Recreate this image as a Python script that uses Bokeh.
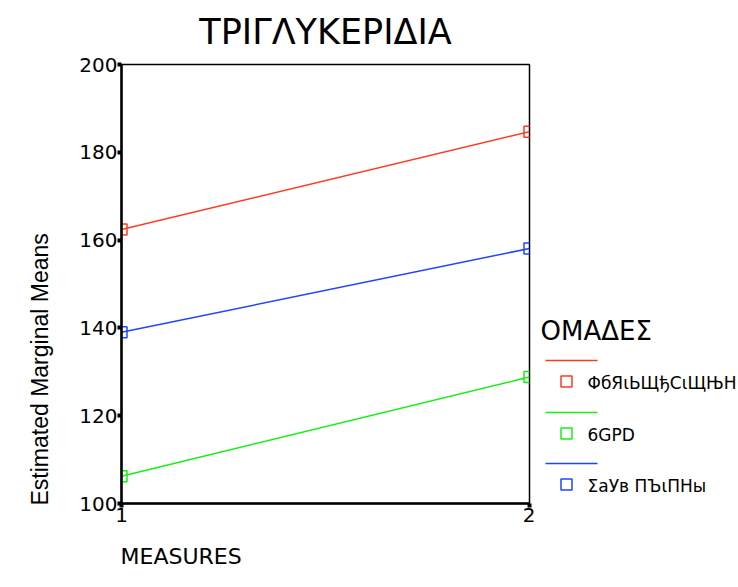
from bokeh.plotting import figure
from bokeh.models import Range1d, FixedTicker, Title, LinearAxis
from bokeh.layouts import row
from bokeh.embed import file_html
from bokeh.resources import INLINE
from bokeh.core.properties import value

# ---- data ----
measures = [1, 2]
group_names = ["ΦбЯιЬЩђСιЩЊН", "6GPD", "ΣаУв ПЪιПНы"]
group_colors = ["#ff3b1f", "#14f014", "#1f45ff"]
means_group1 = [162.4, 184.7]
means_group2 = [106.2, 128.8]
means_group3 = [139.0, 158.1]
series = [means_group1, means_group2, means_group3]
y_ticks = [100, 120, 140, 160, 180, 200]
x_ticks = [1, 2]
chart_title = "ΤΡΙΓΛΥΚΕΡΙΔΙΑ"
x_title = "MEASURES"
y_title = "Estimated Marginal Means"
legend_title = "ΟΜΑΔΕΣ"

FONT = "DejaVu Sans"
W1, H = 535, 587
FRAME_TOP, FRAME_BOTTOM = 64, 503

p = figure(width=W1, height=H, x_range=Range1d(1, 2), y_range=Range1d(100, 200),
           output_backend="svg", toolbar_location=None,
           min_border_left=119, min_border_right=6, min_border_top=FRAME_TOP,
           min_border_bottom=H - FRAME_BOTTOM)
p.xgrid.visible = False
p.ygrid.visible = False
p.outline_line_color = "black"
p.outline_line_width = 1.5
bottom_ax = p.below[0]
left_ax = p.left[0]
for ax in (bottom_ax, left_ax):
    ax.axis_line_width = 2.5
    ax.axis_line_color = "black"
    ax.major_tick_in = 0
    ax.major_tick_out = 4
    ax.major_tick_line_width = 4
    ax.minor_tick_line_color = None
    ax.major_label_text_font = FONT
    ax.major_label_text_font_size = "20px"
    ax.major_label_text_color = "black"
    ax.major_label_standoff = 0
left_ax.ticker = FixedTicker(ticks=y_ticks)
bottom_ax.ticker = FixedTicker(ticks=x_ticks)

for vals, col in zip(series, group_colors):
    p.line(measures, vals, line_color=col, line_width=1.5)
    p.scatter(measures, vals, marker="square", size=11, line_color=col, line_width=1.5,
              fill_color=None)

# chart title as the label of a bare axis above the frame
top_ax = LinearAxis(ticker=FixedTicker(ticks=[]), axis_line_color=None,
                    major_tick_line_color=None, minor_tick_line_color=None,
                    major_tick_in=0, major_tick_out=0, minor_tick_in=0, minor_tick_out=0,
                    major_label_standoff=0, major_label_text_font_size="0px",
                    axis_label=chart_title, axis_label_standoff=13,
                    axis_label_text_font=FONT, axis_label_text_font_size="35px",
                    axis_label_text_font_style="normal", axis_label_text_color="black")
p.add_layout(top_ax, "above")

p.add_layout(Title(text=x_title, text_font=FONT, text_font_size="22px",
                   text_font_style="normal", text_color="black",
                   align="left", offset=-1, standoff=34), "below")
p.add_layout(Title(text=y_title, text_font="Liberation Sans",
                   text_font_size="23px", text_font_style="normal", text_color="black",
                   align="left", offset=-2, standoff=48), "left")

# ---- legend panel (its frame lines up with the main frame; y in page pixels) ----
W2 = 203
lg = figure(width=W2, height=H, x_range=Range1d(0, W2), y_range=Range1d(FRAME_BOTTOM, FRAME_TOP),
            output_backend="svg", toolbar_location=None,
            min_border=0, min_border_left=0, min_border_right=0,
            min_border_top=FRAME_TOP, min_border_bottom=H - FRAME_BOTTOM)
lg.axis.visible = False
lg.grid.visible = False
lg.outline_line_color = None
lg.text([5], [330], text=[legend_title], text_font=value(FONT), text_font_size="26px",
        text_baseline="middle", text_color="black")
line_y = [360, 412, 463]
for i, (name, col) in enumerate(zip(group_names, group_colors)):
    ly = line_y[i]
    lg.line([10, 62], [ly, ly], line_color=col, line_width=1.5)
    lg.scatter([31], [ly + 21], marker="square", size=11, line_color=col, line_width=1.5,
               fill_color=None)
    lg.text([52], [ly + 22], text=[name], text_font=value(FONT), text_font_size="17px",
            text_baseline="middle", text_color="black")

layout = row(p, lg)
open("out.html", "w").write(file_html(layout, INLINE))
